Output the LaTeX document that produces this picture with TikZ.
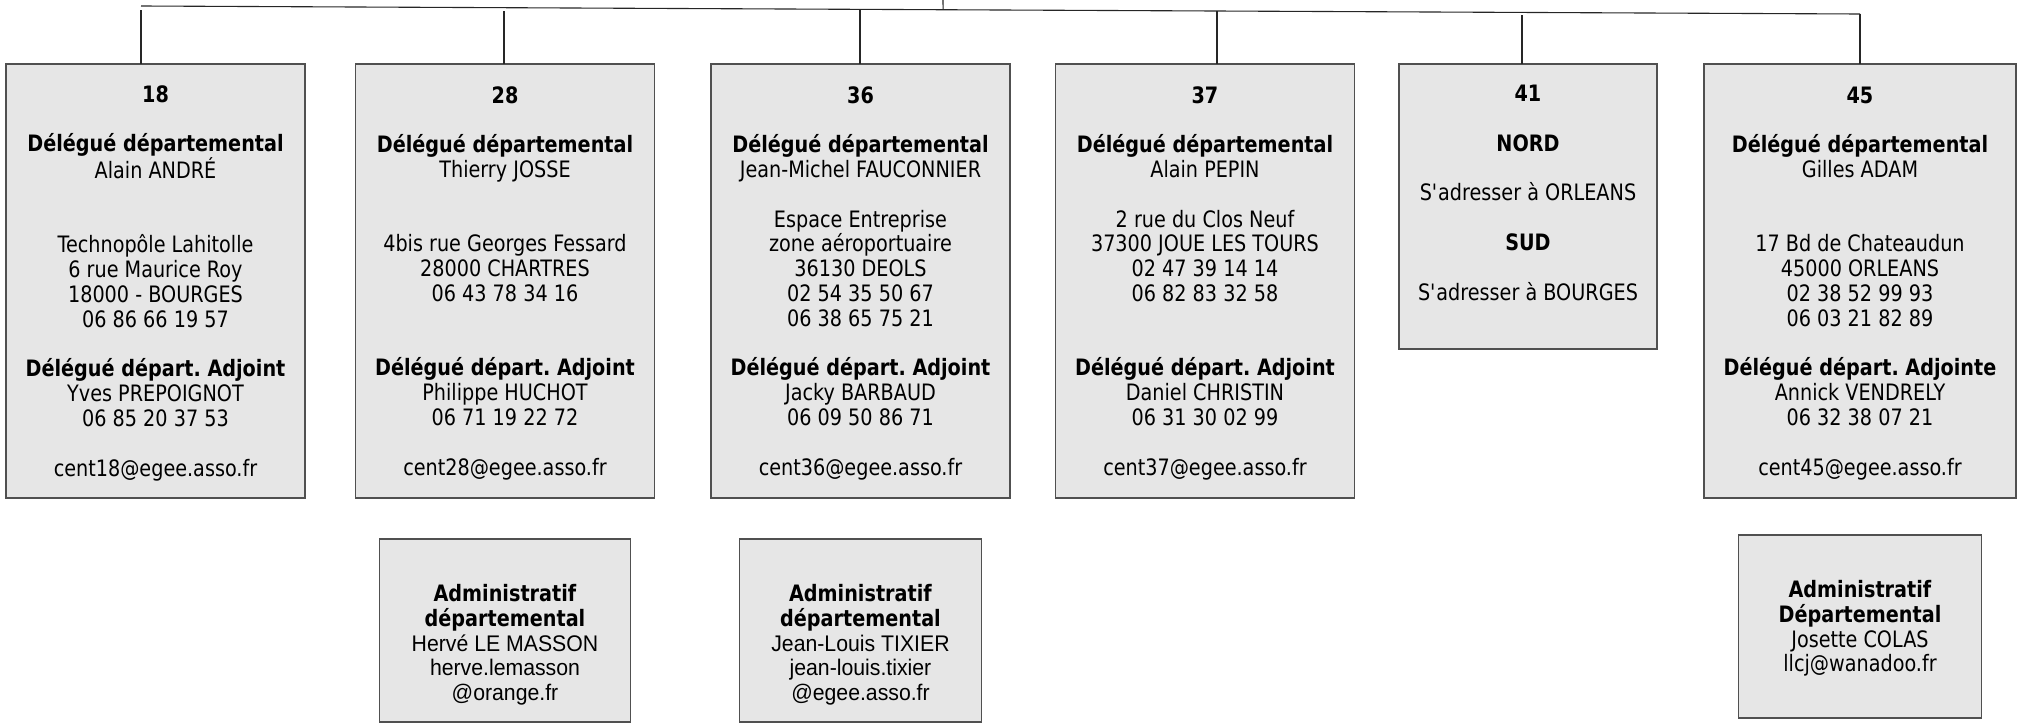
\documentclass[tikz,border=0pt]{standalone}
\usepackage{fontspec}
\setmainfont[FakeStretch=0.85]{DejaVu Sans}
\newfontfamily\admfont[FakeStretch=0.94]{Liberation Sans}
\usepackage{tikz}
\usetikzlibrary{positioning, calc, shapes}
\definecolor{boxgray}{HTML}{E6E6E6}
\definecolor{edgegray}{HTML}{505050}
\newcommand{\firstline}[1]{\raisebox{0pt}[21pt][0pt]{#1}}

\begin{document}
\begin{tikzpicture}[x=1pt, y=-1pt, -, semithick, ampersand replacement=\&,
    wire/.style={draw=black!85, line width=1.1pt},
    depbox/.style={draw=edgegray, fill=boxgray, line width=1.2pt, shape=rectangle,
      inner sep=0pt, align=center, anchor=north, minimum width=299pt, minimum height=434pt,
      font=\fontsize{22.6}{24.8}\selectfont\frenchspacing},
    admbox/.style={depbox, minimum width=243pt, minimum height=183pt}]

  \useasboundingbox (0,0) rectangle (2022,723);

  \matrix (org) [anchor=north west, inner sep=0pt, outer sep=0pt,
    row sep=35.8pt, column sep=43.3pt] at (5.4,63.4) {
   \node[depbox] (d18) {\firstline{\textbf{18}}\\[24.8pt]
     \textbf{Délégué départemental}\\ Alain ANDRÉ\\[49.6pt]
     Technopôle Lahitolle\\ 6 rue Maurice Roy\\ 18000 - BOURGES\\ 06 86 66 19 57\\[24.8pt]
     \textbf{Délégué départ. Adjoint}\\ Yves PREPOIGNOT\\ 06 85 20 37 53\\[24.8pt]
     cent18@egee.asso.fr};
   \&[6pt] \node[depbox] (d28) {\firstline{\textbf{28}}\\[24.8pt]
     \textbf{Délégué départemental}\\ Thierry JOSSE\\[49.6pt]
     4bis rue Georges Fessard\\ 28000 CHARTRES\\ 06 43 78 34 16\\[49.6pt]
     \textbf{Délégué départ. Adjoint}\\ Philippe HUCHOT\\ 06 71 19 22 72\\[24.8pt]
     cent28@egee.asso.fr};
   \&[12pt] \node[depbox] (d36) {\firstline{\textbf{36}}\\[24.8pt]
     \textbf{Délégué départemental}\\ Jean-Michel FAUCONNIER\\[24.8pt]
     Espace Entreprise\\ zone aéroportuaire\\ 36130 DEOLS\\ 02 54 35 50 67\\ 06 38 65 75 21\\[24.8pt]
     \textbf{Délégué départ. Adjoint}\\ Jacky BARBAUD\\ 06 09 50 86 71\\[24.8pt]
     cent36@egee.asso.fr};
   \&[1pt] \node[depbox] (d37) {\firstline{\textbf{37}}\\[24.8pt]
     \textbf{Délégué départemental}\\ Alain PEPIN\\[24.8pt]
     2 rue du Clos Neuf\\ 37300 JOUE LES TOURS\\ 02 47 39 14 14\\ 06 82 83 32 58\\[49.6pt]
     \textbf{Délégué départ. Adjoint}\\ Daniel CHRISTIN\\ 06 31 30 02 99\\[24.8pt]
     cent37@egee.asso.fr};
   \& \node[depbox, minimum width=258pt, minimum height=285pt] (d41) {\firstline{\textbf{41}}\\[24.8pt]
     \textbf{NORD}\\[24.8pt]
     S\textquotesingle adresser à ORLEANS\\[24.8pt]
     \textbf{SUD}\\[24.8pt]
     S\textquotesingle adresser à BOURGES\\ \strut};
   \&[2.5pt] \node[depbox, minimum width=312pt] (d45) {\firstline{\textbf{45}}\\[24.8pt]
     \textbf{Délégué départemental}\\ Gilles ADAM\\[49.6pt]
     17 Bd de Chateaudun\\ 45000 ORLEANS\\ 02 38 52 99 93\\ 06 03 21 82 89\\[24.8pt]
     \textbf{Délégué départ. Adjointe}\\ Annick VENDRELY\\ 06 32 38 07 21\\[24.8pt]
     cent45@egee.asso.fr};\\
   \& \node[admbox, minimum width=251pt, yshift=-4pt] (a28) {\firstline{\strut}\\
     \textbf{Administratif}\\ \textbf{départemental}\\
     {\admfont Hervé LE MASSON}\\ {\admfont herve.lemasson}\\ {\admfont @orange.fr}};
   \& \node[admbox, minimum width=242pt, yshift=-4pt] (a36) {\firstline{\strut}\\
     \textbf{Administratif}\\ \textbf{départemental}\\
     {\admfont Jean-Louis TIXIER}\\ {\admfont jean-louis.tixier}\\ {\admfont @egee.asso.fr}};
   \&
   \&
   \& \node[admbox] (a45) {\firstline{\textbf{Administratif}}\\ \textbf{Départemental}\\
     Josette COLAS\\ llcj@wanadoo.fr};\\
  };

  \coordinate (trunk) at (943,0);
  \coordinate (busL) at (141,6);
  \coordinate (busR) at (1860,14);
  \coordinate (aux18) at (141,10);
  \coordinate (aux28) at (504,11);
  \coordinate (aux36) at (860,10);
  \coordinate (aux37) at (1217,11);
  \coordinate (aux41) at (1522,15);

  \path[wire] (busL) edge (busR)
   (trunk) edge ($(busL)!0.4666!(busR)$)
   (busR) edge (busR |- d45.north)
   (aux18) edge (aux18 |- d18.north)
   (aux28) edge (aux28 |- d28.north)
   (aux36) edge (aux36 |- d36.north)
   (aux37) edge (aux37 |- d37.north)
   (aux41) edge (aux41 |- d41.north);
 \end{tikzpicture}
\end{document}
